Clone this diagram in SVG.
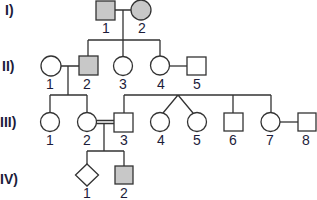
<svg xmlns="http://www.w3.org/2000/svg" width="317" height="200" viewBox="0 0 317 200">
<style>
.s{fill:#fff;stroke:#333;stroke-width:1.3}
.a{fill:#c8c8c8;stroke:#333;stroke-width:1.3}
.l{fill:none;stroke:#333;stroke-width:1.3}
.n{font-family:"Liberation Sans",Arial,sans-serif;font-size:14px;fill:#1c1c3a;text-anchor:middle}
.g{font-family:"Liberation Sans",Arial,sans-serif;font-size:14px;font-weight:bold;fill:#1c1c3a}
</style>
<rect width="317" height="200" fill="#fff"/>
<g id="gen-labels">
<text class="g" x="5" y="15">I)</text>
<text class="g" x="2" y="71">II)</text>
<text class="g" x="0" y="127">III)</text>
<text class="g" x="0" y="184">IV)</text>
</g>
<g id="connectors">
<path class="l" d="M115 10H131M123 10V40M88 40H160M88 40V56M123 40V56M160 40V56"/>
<path class="l" d="M61 66H79M68 66V95M50 95H87M50 95V113M87 95V113"/>
<path class="l" d="M169 66H187"/>
<path class="l" d="M124 95H271M124 95V113M178 95L163 113M178 95L193 113M233 95V113M271 95V113"/>
<path class="l" d="M96 120.5H114M96 123.5H114M104 123.5V151M87 151H124M87 151V164M124 151V166"/>
<path class="l" d="M280 122H298"/>
</g>
<g id="I-1"><rect class="a" x="96" y="1" width="19" height="19"/><text class="n" x="106" y="33">1</text></g>
<g id="I-2"><circle class="a" cx="141" cy="10" r="10"/><text class="n" x="142" y="33">2</text></g>
<g id="II-1"><circle class="s" cx="51" cy="66" r="10"/><text class="n" x="50" y="89">1</text></g>
<g id="II-2"><rect class="a" x="79" y="56" width="19" height="19"/><text class="n" x="87" y="89">2</text></g>
<g id="II-3"><circle class="s" cx="123" cy="66" r="9.5"/><text class="n" x="123" y="89">3</text></g>
<g id="II-4"><circle class="s" cx="160" cy="65.5" r="9.5"/><text class="n" x="161" y="89">4</text></g>
<g id="II-5"><rect class="s" x="187" y="57" width="19" height="18"/><text class="n" x="197" y="89">5</text></g>
<g id="III-1"><circle class="s" cx="50" cy="122" r="9.5"/><text class="n" x="50" y="145">1</text></g>
<g id="III-2"><circle class="s" cx="87" cy="122" r="9.5"/><text class="n" x="87" y="145">2</text></g>
<g id="III-3"><rect class="s" x="114" y="113" width="19" height="19"/><text class="n" x="124" y="145">3</text></g>
<g id="III-4"><circle class="s" cx="160" cy="122" r="9.5"/><text class="n" x="161" y="145">4</text></g>
<g id="III-5"><circle class="s" cx="197" cy="122" r="9.5"/><text class="n" x="197" y="145">5</text></g>
<g id="III-6"><rect class="s" x="224" y="113" width="19" height="18"/><text class="n" x="233" y="145">6</text></g>
<g id="III-7"><circle class="s" cx="270.5" cy="122" r="9.5"/><text class="n" x="270" y="145">7</text></g>
<g id="III-8"><rect class="s" x="298" y="113" width="18" height="18"/><text class="n" x="306" y="145">8</text></g>
<g id="IV-1"><path class="s" d="M87 164L98.5 175L87 186L75.5 175Z"/><text class="n" x="87" y="198">1</text></g>
<g id="IV-2"><rect class="a" x="115" y="166" width="18" height="18"/><text class="n" x="124" y="198">2</text></g>
</svg>
